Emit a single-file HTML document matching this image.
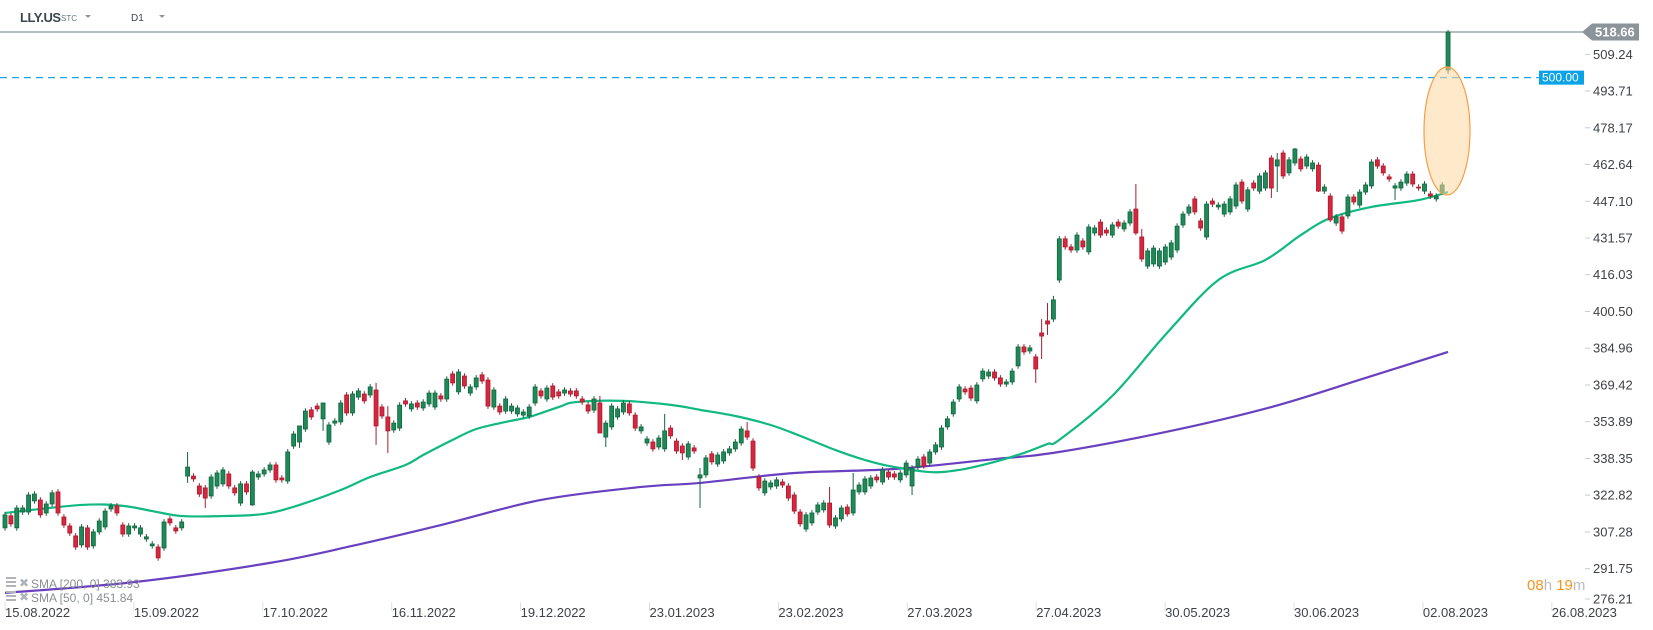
<!DOCTYPE html>
<html><head><meta charset="utf-8"><style>
body{margin:0;background:#fff;font-family:"Liberation Sans",sans-serif;}
svg{display:block}
</style></head><body>
<svg id="chart" width="1653" height="630" viewBox="0 0 1653 630" xmlns="http://www.w3.org/2000/svg" font-family="Liberation Sans, sans-serif">
<rect width="1653" height="630" fill="#fff"/>
<g>
<text x="20" y="22" font-size="13" font-weight="bold" fill="#3a4650" letter-spacing="-0.5">LLY.US</text>
<text x="61" y="21" font-size="8" fill="#6a7680">STC</text>
<path d="M85 15 l6 0 l-3 3 z" fill="#8a949a"/>
<text x="131" y="21" font-size="10" fill="#3a4650">D1</text>
<path d="M159 15 l6 0 l-3 3 z" fill="#8a949a"/>
</g>
<g id="yaxis"></g>
<g id="xaxis"></g>
<g id="lines"></g>
<g id="candles"></g>
<g id="overlay"></g>
</svg>
<script>
const opens=[309.0,314.1,309.0,315.7,315.7,320.4,320.8,315.3,319.1,324.2,313.6,309.8,305.6,301.8,309.0,301.4,307.3,309.4,317.0,318.3,310.2,306.4,309.0,306.4,304.3,301.4,300.9,300.5,312.8,309.0,309.0,330.9,330.9,326.7,325.9,322.5,326.7,327.6,331.8,325.9,319.5,327.6,318.7,330.5,331.8,333.5,335.6,330.1,328.8,343.6,345.3,350.8,358.9,360.5,355.1,345.3,353.3,353.8,365.2,357.6,364.3,365.6,365.2,367.3,360.1,355.9,350.4,351.2,362.7,359.3,361.8,359.7,361.4,360.1,364.8,363.5,374.1,366.5,373.2,366.0,368.6,373.7,371.5,360.1,360.5,358.4,358.4,357.2,356.7,356.3,361.8,366.9,363.5,369.0,366.5,366.0,366.9,366.9,363.5,361.0,358.8,361.8,347.4,351.7,355.9,358.0,361.4,356.7,350.0,344.9,345.3,343.2,342.4,351.2,345.7,343.6,339.0,342.8,330.1,331.4,340.3,336.0,337.3,340.7,342.4,344.9,350.0,345.7,330.5,323.8,326.3,326.7,328.4,326.7,322.9,315.7,308.5,311.1,315.7,316.6,319.5,309.8,312.8,317.8,315.3,324.2,324.2,326.7,330.5,328.4,332.6,331.8,329.3,331.4,326.7,334.8,339.0,336.4,341.1,343.2,351.7,357.2,363.5,367.7,368.1,362.7,372.0,373.2,374.9,372.4,369.8,370.7,377.5,385.5,383.8,381.3,391.4,396.5,397.3,413.8,431.2,427.8,426.5,430.3,425.7,433.7,438.3,434.9,432.8,438.3,435.4,437.9,443.8,432.0,419.7,420.6,419.7,421.4,423.5,426.5,437.1,442.1,448.1,438.8,432.0,447.2,444.7,441.7,442.6,445.1,455.2,443.8,454.8,451.4,452.7,465.4,462.0,467.5,459.1,463.3,465.0,462.0,460.8,462.4,451.4,449.3,437.9,440.5,440.9,448.9,445.5,451.0,453.6,464.6,462.0,457.4,452.7,452.7,454.8,458.6,453.1,451.4,450.2,448.1,451.0,502.6];
const closes=[314.5,310.7,317.4,317.4,322.9,323.3,314.5,319.1,323.8,315.3,310.2,306.8,300.9,309.4,300.9,307.3,311.9,316.1,318.3,315.3,306.4,309.8,309.8,309.0,305.2,302.2,296.3,311.5,311.1,307.7,311.5,334.7,329.7,323.3,321.6,330.5,332.2,333.5,326.7,323.8,327.6,324.2,332.6,331.8,333.5,335.6,329.3,329.3,341.1,348.7,352.1,358.4,355.9,359.3,361.8,352.5,354.2,361.8,357.6,365.6,366.9,362.7,368.6,352.1,356.3,350.0,353.3,360.9,361.4,361.4,360.1,362.2,366.0,366.0,363.5,371.9,370.3,374.9,369.0,368.6,372.4,371.1,360.5,367.3,358.0,363.5,360.5,359.7,358.0,360.1,368.6,364.8,368.1,364.3,364.8,367.3,365.6,364.8,362.2,358.4,363.5,349.1,353.3,360.5,359.3,361.8,357.6,351.2,351.7,346.6,342.4,347.0,350.0,347.9,341.5,340.7,344.5,341.5,331.4,338.6,336.9,339.8,341.1,342.4,345.3,350.8,347.4,334.3,325.9,328.8,328.0,329.3,327.1,321.6,316.1,310.7,314.5,315.3,318.7,319.5,310.2,313.2,317.4,314.9,325.0,327.1,329.7,330.1,329.3,333.5,330.5,330.5,332.2,336.4,334.3,338.1,335.2,341.1,344.1,351.2,355.1,362.2,368.6,366.5,363.9,369.4,375.3,374.9,372.4,369.8,370.7,375.3,385.5,383.4,385.1,376.2,390.1,395.2,405.4,431.2,427.8,426.5,432.8,427.8,436.2,435.8,432.8,433.7,437.1,436.6,437.9,442.6,433.7,422.7,426.1,427.3,426.1,427.8,429.5,436.6,441.7,444.7,442.6,435.8,445.9,445.9,445.5,445.9,448.1,454.0,447.2,451.9,452.7,457.8,459.1,452.7,464.6,457.8,464.6,469.2,460.8,465.8,463.3,451.4,453.1,439.2,440.5,434.5,448.9,446.8,451.0,454.0,463.7,462.0,459.1,456.5,453.6,455.2,458.6,454.4,452.7,454.4,449.3,449.3,454.0,518.66];
const wickIdx=[31,34,42,50,54,63,65,101,102,112,115,118,126,140,144,154,175,176,177,178,192,193,215,216,219,223,225,236,245];
const wickHigh=[341.1,null,333.5,351.7,361.8,370.3,360.5,364.8,null,357.2,null,334.3,353.8,326.3,332.2,null,null,397.3,404.1,407.1,454.4,435.4,null,467.5,469.6,null,null,null,519.5];
const wickLow=[328.0,317.4,318.3,342.8,350.0,344.1,340.7,349.1,343.2,null,337.7,317.4,null,null,null,322.9,370.3,380.4,390.6,null,432.8,null,448.5,451.0,null,451.0,438.3,447.6,501.0];
const sma50Idx=[0,13,20,25,30,37,44,50,57,62,68,71,76,80,85,89,94,97,105,113,118,124,130,135,141,146,150,157,162,168,173,177,179,188,197,206,214,220,225,232,240,245];
const sma50Val=[315.3,318.7,318.3,316.1,314.0,314.0,314.9,318.7,325.0,330.5,335.6,339.8,346.2,350.8,353.8,355.9,360.1,362.2,362.7,361.0,358.9,356.3,352.5,347.9,341.9,337.7,335.2,332.6,333.5,336.9,340.7,344.5,346.2,364.8,390.6,413.8,422.3,432.8,440.0,444.7,447.6,451.0];
const sma200Idx=[0,22,45,59,74,91,108,118,134,151,168,178,197,215,231,245];
const sma200Val=[281.5,286.1,294.2,301.4,310.2,320.8,326.3,328.0,332.2,333.9,338.1,340.7,349.5,360.1,372.4,383.4];
const yTicks=[509.24,493.71,478.17,462.64,447.10,431.57,416.03,400.50,384.96,369.42,353.89,338.35,322.82,307.28,291.75,276.21];
const dateLabels=["15.08.2022","15.09.2022","17.10.2022","16.11.2022","19.12.2022","23.01.2023","23.02.2023","27.03.2023","27.04.2023","30.05.2023","30.06.2023","02.08.2023","26.08.2023"];
const lastPrice=518.66, alertLevel=500.00;

const NS="http://www.w3.org/2000/svg";
const Y=v=>54.3+(509.24-v)*2.365;
const X=i=>5+i*5.89;
function mk(tag,attrs,parent){const e=document.createElementNS(NS,tag);for(const k in attrs)e.setAttribute(k,attrs[k]);parent.appendChild(e);return e;}

const ya=document.getElementById('yaxis');
yTicks.forEach((t,i)=>{
  const y=Math.min(Y(t),599);
  const tk=mk('line',{x1:1585,x2:1590,y1:y,y2:y,stroke:'#c8ccd0'},ya);
  
  
  const tx=mk('text',{x:1593,y:y+4.5,'font-size':13,fill:'#3c4248'},ya);
  
  
  tx.textContent=t.toFixed(2);
});
const xa=document.getElementById('xaxis');
dateLabels.forEach((d,k)=>{
  const x=5+k*128.9;
  const tk=mk('line',{x1:x,x2:x,y1:602,y2:611,stroke:'#dde0e3'},xa);
  
  
  const tx=mk('text',{x:x,y:617,'font-size':13,fill:'#3c4248'},xa);
  
  
  tx.textContent=d;
});

const ln=document.getElementById('lines');
const pl=mk('line',{x1:0,x2:1584,y1:Y(lastPrice),y2:Y(lastPrice),stroke:'#8a9499','stroke-width':1.3},ln);


const al=mk('line',{x1:0,x2:1539,y1:Y(alertLevel)+1.5,y2:Y(alertLevel)+1.5,stroke:'#1aa8f0','stroke-width':1.2,'stroke-dasharray':'7 5'},ln);


function smoothPath(pts){
  let d='M'+pts[0][0]+' '+pts[0][1];
  for(let k=0;k<pts.length-1;k++){
    const p0=pts[k-1]||pts[k],p1=pts[k],p2=pts[k+1],p3=pts[k+2]||p2;
    const c1x=p1[0]+(p2[0]-p0[0])/6,c1y=p1[1]+(p2[1]-p0[1])/6;
    const c2x=p2[0]-(p3[0]-p1[0])/6,c2y=p2[1]-(p3[1]-p1[1])/6;
    d+=` C${c1x} ${c1y} ${c2x} ${c2y} ${p2[0]} ${p2[1]}`;
  }
  return d;
}
function poly(idx,val,color,name){
  const pts=idx.map((i,k)=>[X(i),Y(val[k])]);
  const p=mk('path',{d:smoothPath(pts),fill:'none',stroke:color,'stroke-width':2.2,'stroke-linejoin':'round'},ln);
  
  
}
poly(sma200Idx,sma200Val,'#6840c0','sma-200-line');
poly(sma50Idx,sma50Val,'#10b882','sma-50-line');

const cg=document.getElementById('candles');
opens.forEach((o,i)=>{
  const c=closes[i];
  const up=c>=o;
  const col=up?'#1d8a58':'#d7263d', bd=up?'#12643f':'#a81c2e';
  let hi=Math.max(o,c)+1.2, lo=Math.min(o,c)-1.2;
  const w=wickIdx.indexOf(i);
  if(w>=0){ if(wickHigh[w]!==null) hi=wickHigh[w]; if(wickLow[w]!==null) lo=wickLow[w]; }
  const x=X(i);
  const wk=mk('line',{x1:x,x2:x,y1:Y(hi),y2:Y(lo),stroke:bd,'stroke-width':1},cg);
  
  
  const top=Y(Math.max(o,c)), h=Math.max(1,Y(Math.min(o,c))-top);
  const b=mk('rect',{x:x-2,y:top,width:4,height:h,fill:col,stroke:bd,'stroke-width':0.8},cg);
  
  
});

const ov=document.getElementById('overlay');
const el=mk('ellipse',{cx:1447,cy:131,rx:23,ry:64,fill:'rgba(253,215,160,0.55)',stroke:'#f5a048','stroke-width':1.2},ov);


const ly=Y(lastPrice);
const tag=mk('path',{d:`M1582 ${ly} L1592 ${ly-8.5} L1639 ${ly-8.5} L1639 ${ly+8.5} L1592 ${ly+8.5} Z`,fill:'#8a9499'},ov);


const tt=mk('text',{x:1595,y:ly+4.5,'font-size':13,'font-weight':'bold',fill:'#fff'},ov);


tt.textContent=lastPrice.toFixed(2);
const ay=Y(alertLevel)+1.5;
const ab=mk('rect',{x:1539,y:ay-7,width:45,height:14,fill:'#0aa3e8'},ov);


const at=mk('text',{x:1542,y:ay+4,'font-size':12,fill:'#fff'},ov);


at.textContent=alertLevel.toFixed(2);
</script>
<svg style="position:absolute;left:0;top:0" width="1653" height="630">
<g font-family="Liberation Sans, sans-serif" font-size="12" fill="#8a8f94">
<g>
<rect x="6" y="577" width="10" height="2" fill="#b0b4b8"/><rect x="6" y="581" width="10" height="2" fill="#b0b4b8"/><rect x="6" y="585" width="10" height="2" fill="#b0b4b8"/>
<text x="19" y="587" font-size="12" fill="#b0b4b8">✖</text>
<text x="31" y="588">SMA [200, 0] 383.93</text></g>
<g>
<rect x="6" y="591" width="10" height="2" fill="#b0b4b8"/><rect x="6" y="595" width="10" height="2" fill="#b0b4b8"/><rect x="6" y="599" width="10" height="2" fill="#b0b4b8"/>
<text x="19" y="601" font-size="12" fill="#b0b4b8">✖</text>
<text x="31" y="602">SMA [50, 0] 451.84</text></g>
</g>
<text x="1527" y="590" font-family="Liberation Sans, sans-serif" font-size="15"><tspan fill="#f7941d">08</tspan><tspan fill="#b8bcc0">h </tspan><tspan fill="#f7941d">19</tspan><tspan fill="#b8bcc0">m</tspan></text>
</svg>
</body></html>
